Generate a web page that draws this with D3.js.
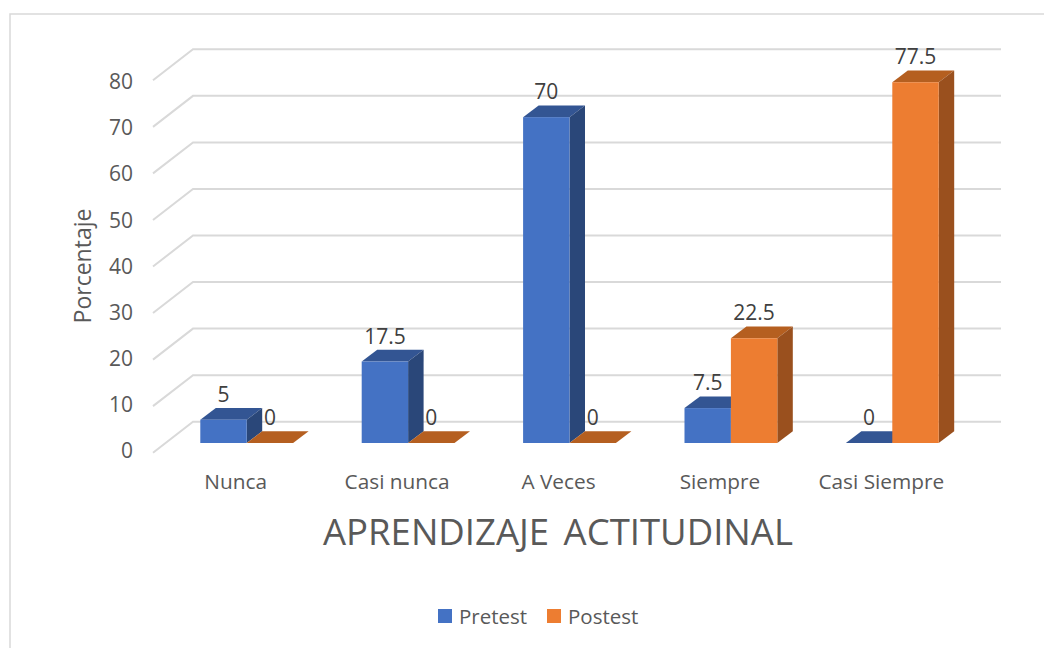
<!DOCTYPE html>
<html lang="en">
    <head>
        <meta charset="utf-8">
        <title>Aprendizaje actitudinal</title>
        <script type="text/javascript" src="https://d3js.org/d3.v7.min.js"></script>
        <style type="text/css">
          html, body { margin: 0; padding: 0; background: #fff; }
          svg { display: block; }
          text { font-family: "Open Sans", sans-serif; fill: #595959; }
        </style>
    </head>
    <body>
        <svg width="1044" height="648"></svg>
        <script type="text/javascript">

            const categories = ["Nunca", "Casi nunca", "A Veces", "Siempre", "Casi Siempre"];
            const seriesNames = ["Pretest", "Postest"];
            const pretest = [5, 17.5, 70, 7.5, 0];
            const postest = [0, 0, 0, 22.5, 77.5];
            const yTicks = [0, 10, 20, 30, 40, 50, 60, 70, 80];

            const svg = d3.select("svg");

            // colours: front, top, side
            const colors = {
                Pretest: ["#4472C4", "#335593", "#2A4779"],
                Postest: ["#ED7D31", "#B55F20", "#9A501E"]
            };

            const x0 = d3.scaleBand().domain(categories).range([166, 973]).paddingInner(0.425).paddingOuter(0.2125);
            const x1 = d3.scaleBand().domain(seriesNames).range([0, x0.bandwidth()]);
            const y = d3.scaleLinear().domain([0, 80]).range([443, 70.6]);
            // the tick labels sit a little tighter than the bars
            const yLabels = d3.scaleLinear().domain([0, 80]).range([451, 82]);

            // bar depth and wall depth of the fake 3d
            const barDx = 15.5, barDy = 11.7;
            const wallLeft = 153, wallBack = 193, wallRight = 1001, wallDy = 31, backOffset = 21.3;

            // chart border, only top and left show in the crop
            svg.append("path")
               .attr("d", "M1044,14L10,14L10,648")
               .style("fill", "none")
               .style("stroke", "#D9D9D9")
               .style("stroke-width", 1.5);

            // gridlines: diagonal on the side wall, then flat along the back
            svg.selectAll("path.grid")
               .data(yTicks)
               .enter()
               .append("path")
               .attr("class", "grid")
               .attr("d", d => {
                   const yb = y(d) - backOffset;
                   return `M${wallLeft},${yb + wallDy}L${wallBack},${yb}L${wallRight},${yb}`;
               })
               .style("fill", "none")
               .style("stroke", "#D9D9D9")
               .style("stroke-width", 2);

            const bars = [];
            categories.forEach((c, i) => {
                bars.push({cat: c, name: "Pretest", value: pretest[i]});
                bars.push({cat: c, name: "Postest", value: postest[i]});
            });

            const groups = svg.selectAll("g.bar")
               .data(bars)
               .enter()
               .append("g")
               .attr("class", "bar");

            // top
            groups.append("path")
               .attr("d", d => {
                   const l = x0(d.cat) + x1(d.name), r = l + x1.bandwidth(), t = y(d.value);
                   return `M${l},${t}L${l + barDx},${t - barDy}L${r + barDx},${t - barDy}L${r},${t}Z`;
               })
               .style("fill", d => colors[d.name][1]);

            // side
            groups.append("path")
               .attr("d", d => {
                   const r = x0(d.cat) + x1(d.name) + x1.bandwidth(), t = y(d.value), b = y(0);
                   return `M${r},${t}L${r + barDx},${t - barDy}L${r + barDx},${b - barDy}L${r},${b}Z`;
               })
               .style("fill", d => colors[d.name][2]);

            // front
            groups.append("rect")
               .attr("x", d => x0(d.cat) + x1(d.name))
               .attr("y", d => y(d.value))
               .attr("width", x1.bandwidth())
               .attr("height", d => y(0) - y(d.value))
               .style("fill", d => colors[d.name][0]);

            // data labels
            svg.selectAll("text.value")
               .data(bars)
               .enter()
               .append("text")
               .attr("class", "value")
               .attr("x", d => x0(d.cat) + x1(d.name) + x1.bandwidth() / 2)
               .attr("y", d => y(d.value) - 18)
               .attr("text-anchor", "middle")
               .style("font-size", "21px")
               .style("fill", "#404040")
               .text(d => d.value);

            // y axis labels
            const yAxis = d3.axisLeft(yLabels).tickValues(yTicks).tickSize(0).tickPadding(0);
            svg.append("g")
               .attr("transform", "translate(133,0)")
               .call(yAxis)
               .call(g => g.select(".domain").remove())
               .selectAll("text")
               .style("font-size", "21px")
               .style("font-family", "\"Open Sans\", sans-serif");

            // category labels, they sit left of the bars because of the 3d floor
            const xAxis = d3.axisBottom(x0).tickSize(0).tickPadding(0);
            svg.append("g")
               .attr("transform", "translate(-11,474)")
               .call(xAxis)
               .call(g => g.select(".domain").remove())
               .selectAll("text")
               .style("font-size", "20.8px")
               .style("font-family", "\"Open Sans\", sans-serif");

            svg.append("text")
               .attr("transform", "translate(91,266) rotate(-90)")
               .attr("text-anchor", "middle")
               .style("font-size", "23px")
               .text("Porcentaje");

            svg.append("text")
               .attr("x", 558).attr("y", 545)
               .attr("text-anchor", "middle")
               .style("font-size", "36.5px")
               .style("word-spacing", "5px")
               .text("APRENDIZAJE ACTITUDINAL");

            // legend
            const legendX = [438, 547];
            const legend = svg.selectAll("g.legend")
               .data(seriesNames)
               .enter()
               .append("g")
               .attr("class", "legend")
               .attr("transform", (d, i) => `translate(${legendX[i]},609)`);
            legend.append("rect")
               .attr("width", 14).attr("height", 14)
               .style("fill", d => colors[d][0]);
            legend.append("text")
               .attr("x", 21).attr("y", 15)
               .style("font-size", "20.5px")
               .text(d => d);

        </script>
    </body>
</html>
